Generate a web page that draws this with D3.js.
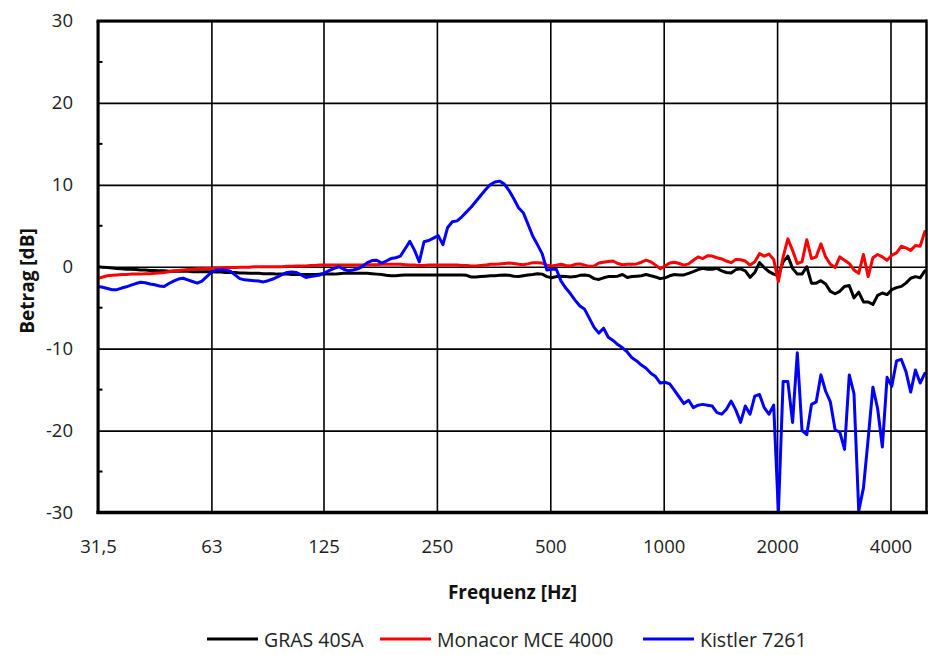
<!DOCTYPE html>
<html>
<head>
<meta charset="utf-8">
<script src="https://cdn.jsdelivr.net/npm/d3@7"></script>
<style>
  html, body { margin: 0; padding: 0; background: #fff; }
  svg { display: block; font-family: "Open Sans", "DejaVu Sans", sans-serif; }
</style>
</head>
<body>
<svg id="chart" width="929" height="655"></svg>
<script>
// Frequency axis: 1/24-octave analysis bands starting at 31.5 Hz
const bandCount = 176;
const bandFreqs = d3.range(bandCount).map(i => 31.5 * Math.pow(2, i / 24));

const xTickValues = [31.5, 63, 125, 250, 500, 1000, 2000, 4000];
const xTickLabels = ["31,5", "63", "125", "250", "500", "1000", "2000", "4000"];
const yTickValues = [-30, -20, -10, 0, 10, 20, 30];
const yMinorTicks = [-25, -15, -5, 5, 15, 25];

const seriesNames = ["GRAS 40SA", "Monacor MCE 4000", "Kistler 7261"];
const seriesColors = ["#000000", "#ff0000", "#0000ff"];

// Magnitude response in dB, one value per band
const gras40SA = [
  0.0, -0.05, -0.1, -0.15, -0.2, -0.25, -0.3, -0.3, -0.35, -0.4,
  -0.4, -0.45, -0.45, -0.5, -0.5, -0.55, -0.55, -0.55, -0.55, -0.55,
  -0.6, -0.6, -0.6, -0.6, -0.6, -0.65, -0.65, -0.7, -0.7, -0.7,
  -0.75, -0.75, -0.8, -0.8, -0.8, -0.85, -0.85, -0.85, -0.9, -0.9,
  -0.9, -0.95, -0.95, -0.95, -0.95, -0.95, -0.95, -0.9, -0.9, -0.9,
  -0.9, -0.85, -0.8, -0.8, -0.8, -0.8, -0.8, -0.8, -0.85, -0.9,
  -0.95, -1.05, -1.1, -1.1, -1.05, -1.0, -1.0, -1.0, -1.0, -1.0,
  -1.0, -1.0, -1.0, -1.0, -1.0, -1.0, -1.0, -1.0, -1.05, -1.25,
  -1.25, -1.2, -1.15, -1.1, -1.1, -1.05, -1.0, -1.05, -1.15, -1.2,
  -1.1, -1.0, -0.95, -0.85, -0.9, -1.2, -1.35, -1.2, -1.15, -1.2,
  -1.25, -1.2, -1.05, -1.0, -1.1, -1.45, -1.55, -1.35, -1.2, -1.2,
  -1.15, -0.95, -1.3, -1.2, -1.15, -1.1, -0.95, -1.1, -1.25, -1.45,
  -1.35, -1.1, -0.95, -1.0, -1.0, -0.8, -0.6, -0.35, -0.2, -0.3,
  -0.3, -0.2, -0.5, -0.7, -0.75, -0.35, -0.25, -0.5, -1.3, -0.7,
  0.5, -0.1, -0.6, -0.9, -1.1, 0.6, 1.3, -0.2, -0.9, -0.9,
  0.0, -2.0, -2.0, -1.7, -2.1, -3.0, -3.3, -3.0, -2.4, -2.3,
  -3.8, -3.1, -4.3, -4.3, -4.6, -3.5, -3.2, -3.4, -2.8, -2.55,
  -2.4, -2.0, -1.4, -1.2, -1.35, -0.5
];

const monacorMCE4000 = [
  -1.4, -1.25, -1.1, -1.05, -1.0, -0.95, -0.95, -0.9, -0.9, -0.9,
  -0.85, -0.85, -0.8, -0.75, -0.7, -0.6, -0.5, -0.45, -0.4, -0.35,
  -0.3, -0.25, -0.25, -0.2, -0.2, -0.15, -0.15, -0.1, -0.1, -0.1,
  -0.05, -0.05, -0.05, 0.0, 0.0, 0.0, 0.0, 0.0, 0.0, 0.0,
  0.05, 0.05, 0.1, 0.1, 0.1, 0.15, 0.15, 0.2, 0.2, 0.2,
  0.2, 0.2, 0.2, 0.2, 0.2, 0.2, 0.2, 0.25, 0.25, 0.25,
  0.3, 0.3, 0.3, 0.3, 0.3, 0.25, 0.2, 0.2, 0.15, 0.15,
  0.2, 0.2, 0.2, 0.2, 0.2, 0.2, 0.2, 0.15, 0.15, 0.1,
  0.1, 0.15, 0.2, 0.3, 0.3, 0.35, 0.4, 0.45, 0.4, 0.3,
  0.25, 0.35, 0.5, 0.5, 0.45, 0.2, 0.1, 0.2, 0.3, 0.15,
  0.1, 0.3, 0.35, 0.2, 0.05, 0.1, 0.45, 0.55, 0.65, 0.7,
  0.4, 0.25, 0.3, 0.3, 0.35, 0.55, 0.8, 0.6, 0.2, -0.25,
  0.1, 0.45, 0.55, 0.4, 0.2, 0.35, 0.8, 1.2, 1.0, 1.35,
  1.3, 1.1, 0.95, 0.7, 0.5, 0.9, 0.85, 0.7, 0.2, 0.6,
  1.6, 1.3, 1.55, 0.9, -1.8, 1.2, 3.4, 2.0, 0.4, 0.6,
  3.3, 1.0, 1.2, 2.8, 1.2, 0.3, -0.1, 1.2, 0.8, 0.4,
  -0.4, -0.8, 1.5, -1.2, 1.1, 1.5, 1.2, 0.8, 1.4, 1.7,
  2.5, 2.3, 2.0, 2.6, 2.5, 4.3
];

const kistler7261 = [
  -2.4, -2.5, -2.65, -2.8, -2.8, -2.6, -2.45, -2.25, -2.05, -1.9,
  -1.95, -2.1, -2.2, -2.35, -2.4, -2.05, -1.75, -1.5, -1.4, -1.6,
  -1.8, -2.0, -1.75, -1.2, -0.7, -0.4, -0.4, -0.4, -0.55, -1.0,
  -1.45, -1.6, -1.65, -1.7, -1.75, -1.85, -1.7, -1.5, -1.25, -0.95,
  -0.7, -0.65, -0.7, -1.0, -1.3, -1.2, -1.1, -1.0, -0.75, -0.45,
  -0.2, 0.0, -0.3, -0.5, -0.4, -0.25, 0.05, 0.5, 0.75, 0.8,
  0.45, 0.7, 1.0, 1.1, 1.3, 2.2, 3.1, 2.0, 0.6, 3.05,
  3.2, 3.5, 3.8, 2.7, 4.8, 5.5, 5.6, 6.1, 6.7, 7.3,
  8.0, 8.7, 9.4, 10.0, 10.35, 10.45, 10.1, 9.3, 8.3, 7.2,
  6.6, 5.2, 3.75, 2.7, 1.6, -0.4, -0.3, -0.3, -1.75, -2.6,
  -3.3, -4.1, -4.8, -5.2, -6.3, -7.4, -8.1, -7.5, -8.6, -9.0,
  -9.5, -9.9, -10.4, -11.1, -11.5, -12.0, -12.4, -13.0, -13.4, -14.2,
  -14.1, -14.3, -15.1, -15.9, -16.7, -16.3, -17.2, -16.9, -16.8, -16.9,
  -17.0, -17.8, -18.0, -17.4, -16.4, -17.5, -19.0, -17.0, -18.0, -15.8,
  -15.6, -17.2, -18.0, -16.9, -30.0, -14.0, -14.0, -19.0, -10.5, -20.0,
  -20.5, -16.8, -16.5, -13.2, -15.2, -16.5, -19.9, -20.2, -22.3, -13.2,
  -15.5, -29.8, -27.0, -21.0, -14.7, -17.3, -22.0, -13.5, -14.6, -11.5,
  -11.3, -12.8, -15.3, -12.6, -14.2, -13.0
];

const seriesValues = [gras40SA, monacorMCE4000, kistler7261];

// ---- layout ----
const plotLeft = 98, plotRight = 927, plotTop = 21, plotBottom = 512.5;
const plotW = plotRight - plotLeft, plotH = plotBottom - plotTop;

const x = d3.scaleLog().domain([31.5, 5000]).range([plotLeft, plotRight]);
const y = d3.scaleLinear().domain([-30, 30]).range([plotBottom, plotTop]);

const svg = d3.select("#chart");

// horizontal grid + y tick labels
const yAxis = svg.append("g")
  .attr("transform", `translate(${plotLeft},0)`)
  .call(d3.axisLeft(y).tickValues(yTickValues).tickSize(-plotW).tickPadding(25)
    .tickFormat(d => String(d)));
yAxis.select(".domain").remove();
yAxis.selectAll(".tick line").attr("stroke", "#000").attr("stroke-width", 1.6);
yAxis.selectAll(".tick text")
  .attr("fill", "#222").attr("font-size", "18.5px")
  .attr("font-family", "Open Sans").attr("dy", "0.3em");

// vertical grid + x tick labels
const xAxis = svg.append("g")
  .attr("transform", `translate(0,${plotBottom})`)
  .call(d3.axisBottom(x).tickValues(xTickValues).tickSize(-plotH).tickPadding(27)
    .tickFormat((d, i) => xTickLabels[i]));
xAxis.select(".domain").remove();
xAxis.selectAll(".tick line").attr("stroke", "#000").attr("stroke-width", 1.6);
xAxis.selectAll(".tick text")
  .attr("fill", "#222").attr("font-size", "18.5px")
  .attr("font-family", "Open Sans");

// minor ticks on the value axis
svg.append("g").selectAll("line").data(yMinorTicks).join("line")
  .attr("x1", plotLeft).attr("x2", plotLeft + 4.5)
  .attr("y1", d => y(d)).attr("y2", d => y(d))
  .attr("stroke", "#000").attr("stroke-width", 2);

// curves
svg.append("clipPath").attr("id", "plotClip")
  .append("rect").attr("x", plotLeft).attr("y", plotTop)
  .attr("width", plotW).attr("height", plotH);

const line = d3.line()
  .x((d, i) => x(bandFreqs[i]))
  .y(d => y(d));

svg.append("g").attr("clip-path", "url(#plotClip)")
  .selectAll("path").data(seriesValues).join("path")
  .attr("d", d => line(d))
  .attr("fill", "none")
  .attr("stroke", (d, i) => seriesColors[i])
  .attr("stroke-width", 3)
  .attr("stroke-linejoin", "round")
  .attr("stroke-linecap", "round");

// frame
const frame = svg.append("g").attr("stroke", "#000");
frame.append("line").attr("x1", plotLeft - 1.5).attr("x2", plotRight).attr("y1", plotTop).attr("y2", plotTop).attr("stroke-width", 3);
frame.append("line").attr("x1", plotLeft).attr("x2", plotLeft).attr("y1", plotTop).attr("y2", plotBottom + 1.5).attr("stroke-width", 3);
frame.append("line").attr("x1", plotLeft - 1.5).attr("x2", plotRight + 1).attr("y1", plotBottom).attr("y2", plotBottom).attr("stroke-width", 3.5);
frame.append("line").attr("x1", plotRight - 0.5).attr("x2", plotRight - 0.5).attr("y1", plotTop - 1.5).attr("y2", plotBottom).attr("stroke-width", 2.5);

// axis titles
svg.append("text")
  .attr("x", (plotLeft + plotRight) / 2).attr("y", 592)
  .attr("text-anchor", "middle").attr("dominant-baseline", "central")
  .attr("font-weight", "bold").attr("font-size", "19px").attr("fill", "#111")
  .text("Frequenz [Hz]");

svg.append("text")
  .attr("transform", "translate(27,281) rotate(-90)")
  .attr("text-anchor", "middle").attr("dominant-baseline", "central")
  .attr("font-weight", "bold").attr("font-size", "19px").attr("fill", "#111")
  .text("Betrag [dB]");

// legend
const legendX = [207, 380, 643];
const legendY = 639;
const legend = svg.append("g").selectAll("g").data(seriesNames).join("g")
  .attr("transform", (d, i) => `translate(${legendX[i]},${legendY})`);
legend.append("line")
  .attr("x1", 0).attr("x2", 51).attr("y1", 0).attr("y2", 0)
  .attr("stroke", (d, i) => seriesColors[i]).attr("stroke-width", 3);
legend.append("text")
  .attr("x", 57).attr("y", 0).attr("dominant-baseline", "central")
  .attr("font-size", "19.5px").attr("fill", "#222")
  .text(d => d);
</script>
</body>
</html>
